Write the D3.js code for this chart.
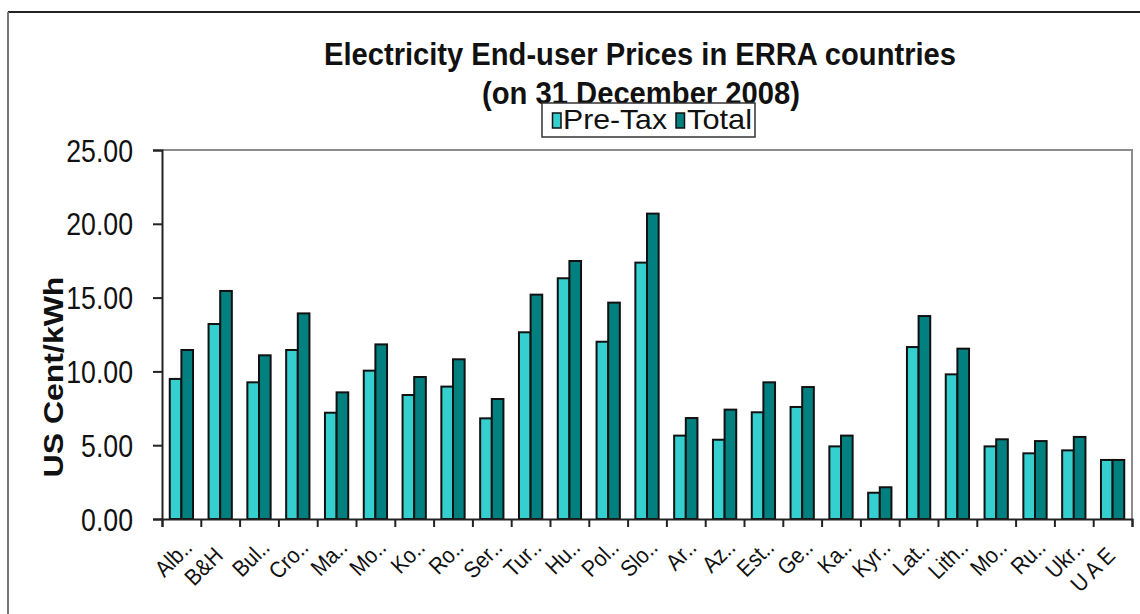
<!DOCTYPE html>
<html>
<head>
<meta charset="utf-8">
<script src="https://cdn.jsdelivr.net/npm/d3@7"></script>
<style>
  html, body { margin: 0; padding: 0; background: #ffffff; }
  svg { display: block; }
  text { font-family: "Liberation Sans", Arial, sans-serif; fill: #111; }
</style>
</head>
<body>
<svg id="chart" width="1140" height="614"></svg>
<script>
// Electricity end-user prices, US cent per kWh, 31 December 2008
const categories = ["Alb..", "B&H", "Bul..", "Cro..", "Ma..", "Mo..", "Ko..", "Ro..", "Ser..", "Tur..",
  "Hu..", "Pol..", "Slo..", "Ar..", "Az..", "Est..", "Ge..", "Ka..", "Kyr..", "Lat..",
  "Lith..", "Mo..", "Ru..", "Ukr..", "U A E"];
const preTax = [9.49, 13.21, 9.26, 11.45, 7.20, 10.05, 8.40, 8.97, 6.82, 12.65,
  16.31, 12.01, 17.37, 5.65, 5.37, 7.23, 7.59, 4.92, 1.78, 11.65,
  9.80, 4.92, 4.45, 4.65, 4.00];
const total = [11.45, 15.45, 11.09, 13.93, 8.58, 11.83, 9.62, 10.82, 8.13, 15.20,
  17.48, 14.66, 20.69, 6.84, 7.41, 9.26, 8.94, 5.65, 2.15, 13.75,
  11.54, 5.40, 5.28, 5.56, 4.00];
const seriesNames = ["Pre-Tax", "Total"];
const seriesColors = ["#35cfcf", "#028080"];
const yTicks = [0, 5, 10, 15, 20, 25];
const titleLines = ["Electricity End-user Prices in ERRA countries", "(on 31 December 2008)"];
const yTitle = "US Cent/kWh";

const svg = d3.select("#chart");
const plot = { left: 162, right: 1132, top: 150, bottom: 519 };

// squeeze text horizontally along its baseline
function squeeze(sel, f) {
  sel.each(function () {
    const w = this.getComputedTextLength();
    this.setAttribute("textLength", w * f);
    this.setAttribute("lengthAdjust", "spacingAndGlyphs");
  });
}
function fitWidth(sel, w) {
  sel.attr("textLength", w).attr("lengthAdjust", "spacingAndGlyphs");
}

svg.append("rect").attr("width", 1140).attr("height", 614).attr("fill", "#ffffff");

// outer chart frame
svg.append("path").attr("d", "M8,12H1140").attr("stroke", "#222").attr("stroke-width", 2).attr("fill", "none");
svg.append("path").attr("d", "M8,12V614").attr("stroke", "#777").attr("stroke-width", 2).attr("fill", "none");

// scales (categories are keyed by position, since some abbreviations repeat)
const idx = d3.range(categories.length);
const x = d3.scaleBand().domain(idx).range([plot.left, plot.right])
  .paddingInner(0.4).paddingOuter(0.2);
const xSub = d3.scaleBand().domain(seriesNames).range([0, x.bandwidth()]);
const y = d3.scaleLinear().domain([0, 25]).range([plot.bottom, plot.top]);
const xEdge = d3.scaleLinear().domain([0, categories.length]).range([plot.left, plot.right]);

// plot area border (top and right)
svg.append("path")
  .attr("d", `M${plot.left},${plot.top}H${plot.right}V${plot.bottom}`)
  .attr("stroke", "#8c8c8c").attr("stroke-width", 2).attr("fill", "none");

// bars
const rows = idx.map(i => ({ i, cat: categories[i], values: [preTax[i], total[i]] }));
const groups = svg.append("g").selectAll("g").data(rows).join("g")
  .attr("transform", d => `translate(${x(d.i)},0)`);
groups.selectAll("rect")
  .data(d => d.values.map((v, j) => ({ key: seriesNames[j], v, j })))
  .join("rect")
  .attr("x", d => xSub(d.key))
  .attr("width", xSub.bandwidth())
  .attr("y", d => y(d.v))
  .attr("height", d => y(0) - y(d.v))
  .attr("fill", d => seriesColors[d.j])
  .attr("stroke", "#111").attr("stroke-width", 2);

// y axis
const yAxis = svg.append("g").attr("transform", `translate(${plot.left},0)`)
  .call(d3.axisLeft(y).tickValues(yTicks).tickFormat(d3.format(".2f")).tickSize(9).tickPadding(20));
yAxis.select(".domain").attr("stroke", "#222").attr("stroke-width", 2);
yAxis.selectAll(".tick line").attr("stroke", "#222").attr("stroke-width", 2);
yAxis.selectAll(".tick text").attr("font-size", 31).attr("fill", "#111")
  .attr("font-family", '"Liberation Sans", Arial, sans-serif').attr("dy", "0.36em");
squeeze(yAxis.selectAll(".tick text"), 0.86);

// x axis with ticks between categories
const xAxis = svg.append("g").attr("transform", `translate(0,${plot.bottom})`)
  .call(d3.axisBottom(xEdge).tickValues(d3.range(categories.length + 1)).tickFormat("").tickSize(8));
xAxis.select(".domain").attr("stroke", "#222").attr("stroke-width", 2);
xAxis.selectAll(".tick line").attr("stroke", "#222").attr("stroke-width", 2);

// rotated category labels; the trailing ".." follows the stem
const labels = svg.append("g").selectAll("g").data(rows).join("g")
  .attr("transform", d => `translate(${x(d.i) + x.bandwidth() / 2 + 4},557) rotate(-45)`);
labels.append("text")
  .attr("text-anchor", "end")
  .attr("font-size", 23)
  .text(d => d.cat.endsWith("..") ? d.cat.slice(0, -2) : d.cat);
labels.filter(d => d.cat.endsWith("..")).append("text")
  .attr("text-anchor", "start")
  .attr("font-size", 23)
  .text("..");
squeeze(labels.selectAll("text"), 0.9);

// y axis title
svg.append("text")
  .attr("transform", "translate(63,377) rotate(-90) scale(1,0.87)")
  .attr("text-anchor", "middle")
  .attr("font-size", 32).attr("font-weight", "bold")
  .text(yTitle);

// title
const t1 = svg.append("text").attr("x", 640).attr("y", 65).attr("text-anchor", "middle")
  .attr("font-size", 31).attr("font-weight", "bold").text(titleLines[0]);
fitWidth(t1, 632);
const t2 = svg.append("text").attr("x", 641).attr("y", 104).attr("text-anchor", "middle")
  .attr("font-size", 31).attr("font-weight", "bold").text(titleLines[1]);
fitWidth(t2, 318);

// legend
const legend = svg.append("g");
legend.append("rect").attr("x", 542).attr("y", 103).attr("width", 213).attr("height", 34)
  .attr("fill", "#ffffff").attr("stroke", "#333").attr("stroke-width", 1.5);
const legendItems = [
  { name: seriesNames[0], color: seriesColors[0], sx: 552.5, tx: 563, w: 104 },
  { name: seriesNames[1], color: seriesColors[1], sx: 676, tx: 687, w: 65 }
];
legendItems.forEach(it => {
  legend.append("rect").attr("x", it.sx).attr("y", 113).attr("width", 8.5).attr("height", 15)
    .attr("fill", it.color).attr("stroke", "#111").attr("stroke-width", 1.5);
  const tx = legend.append("text").attr("x", it.tx).attr("y", 128.5)
    .attr("font-size", 28).text(it.name);
  fitWidth(tx, it.w);
});
</script>
</body>
</html>
